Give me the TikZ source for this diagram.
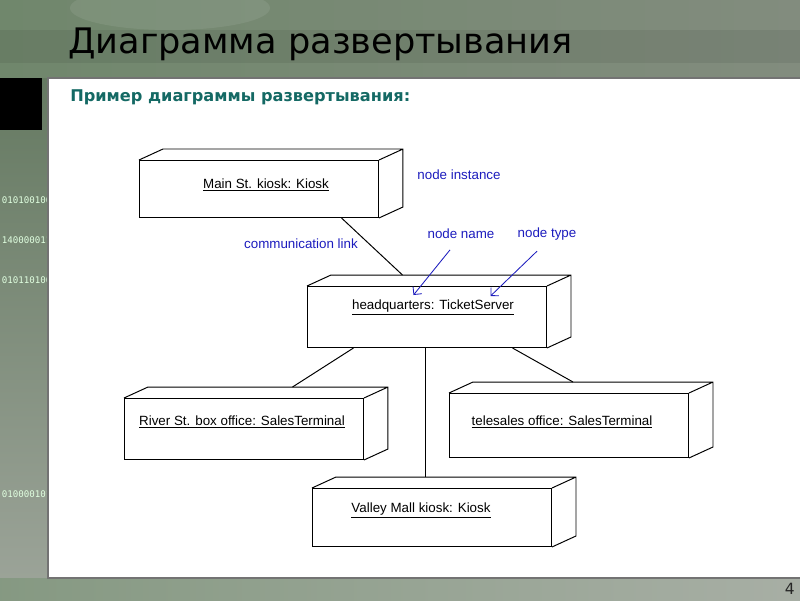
\documentclass[tikz,border=0pt]{standalone}
\usepackage{fontspec}
\setmainfont{DejaVu Sans}
\newfontfamily\umlfont{Liberation Sans}
\newfontfamily\bitfont{DejaVu Sans Mono}
\usetikzlibrary{arrows.meta}
\definecolor{notecol}{RGB}{28,28,190}
\definecolor{subcol}{RGB}{20,105,100}
\definecolor{bgleft}{RGB}{112,135,108}
\definecolor{bgmid}{RGB}{186,196,142}
\definecolor{bgright}{RGB}{130,140,126}
\newcommand\px{0.025cm}
\tikzset{>={Straight Barb[length=4pt]}}
\tikzset{
  devnode/.style={draw, line width=0.7pt, fill=white, anchor=north west, inner sep=0pt,
    minimum width=239*\px, minimum height=#1*\px},
  devlabel/.style={font=\umlfont\fontsize{9.5}{11}\selectfont},
  note/.style={devlabel, text=notecol},
  link/.style={line width=0.7pt},
  bits/.style={anchor=west, font=\bitfont\fontsize{6.5}{6.5}\selectfont, text=white!88!green}
}
% back faces of a node box
\newcommand\cube[1]{\draw[link] (#1.north west) -- ++(24,-11) -- ([shift={(24,-11)}]#1.north east)
  -- ([shift={(24,-11)}]#1.south east) -- (#1.south east) (#1.north east) -- ++(24,-11);}

\begin{document}
\begin{tikzpicture}[x=\px, y=-\px]
	\useasboundingbox (0,0) rectangle (800,600);
	% slide background
	\shade[left color=bgleft, middle color=bgmid, right color=bgright] (0,0) rectangle (800,78);
	\fill[white, opacity=0.08] (170,8) ellipse (100 and 22);
	\fill[black, opacity=0.07] (0,30) rectangle (800,63);
	\shade[top color=bgleft!90!black, bottom color=bgright!80!white] (0,78) rectangle (48,578);
	\shade[left color=bgleft!85!white, right color=bgright!70!white] (0,578) rectangle (800,600);
	\begin{scope}
		\clip (0,78) rectangle (48,578);
		\node[bits] (b1) at (-3,200) {0101001001};
		\node[bits] (b2) at (-3,240) {1400000111};
		\node[bits] (b3) at (-3,280) {0101101001};
		\node[bits] (b4) at (-3,494) {0100001011};
	\end{scope}
	\fill (0,78) rectangle (42,130);
	\filldraw[fill=white, draw=black!55, line width=0.8pt] (48,78) rectangle (802,578);
	\node[anchor=south east, inner sep=0pt, font=\fontsize{11}{11}\selectfont, text=black!85] (pg) at (795,595) {4};

	% titles
	\node[anchor=base west, inner sep=0pt, font=\fontsize{25}{30}\selectfont] (title) at (68,53) {Диаграмма развертывания};
	\node[anchor=base west, inner sep=0pt, text=subcol, font=\bfseries\fontsize{11.5}{14}\selectfont] (sub) at (70,101) {Пример диаграммы развертывания:};

	% nodes
	\node[devnode=57] (main) at (139,160) {}; \cube{main}
	\node[devnode=61] (hq) at (307,286) {}; \cube{hq}
	\node[devnode=61] (river) at (124,398) {}; \cube{river}
	\node[devnode=64] (tele) at (449,393) {}; \cube{tele}
	\node[devnode=58] (valley) at (312,488) {}; \cube{valley}

	\node[devlabel] (mainT) at (266,185) {\underline{Main St. kiosk: Kiosk}};
	\node[devlabel] (hqT) at (433,307) {\underline{headquarters: TicketServer}};
	\node[devlabel] (riverT) at (242,422) {\underline{River St. box office: SalesTerminal}};
	\node[devlabel] (teleT) at (562,422) {\underline{telesales office: SalesTerminal}};
	\node[devlabel] (valleyT) at (421,510) {\underline{Valley Mall kiosk: Kiosk}};

	% links
	\draw[link] ([shift={(82.5,0)}]main.south) -- ([shift={(-24.5,-11)}]hq.north);
	\draw[link] ([shift={(-73.5,0)}]hq.south) -- ([shift={(48.5,-11)}]river.north);
	\draw[link] ([shift={(85.5,0)}]hq.south) -- ([shift={(4,-11)}]tele.north);
	\draw[line width=1.3pt] ([shift={(-1.5,0)}]hq.south) -- ([shift={(-6.5,-11)}]valley.north);

	% notes
	\node[note] (inst) at (459,175) {node instance};
	\node[note] (comm) at (301,244) {communication link};
	\node[note] (nname) at (461,234) {node name};
	\node[note] (ntype) at (547,234) {node type};
	\draw[notecol, line width=0.6pt, ->] ([shift={(-11,6)}]nname.south) -- ([shift={(-13.5,9)}]hq.north);
	\draw[notecol, line width=0.6pt, ->] ([shift={(-10,6)}]ntype.south) -- ([shift={(63.5,10)}]hq.north);
\end{tikzpicture}
\end{document}
